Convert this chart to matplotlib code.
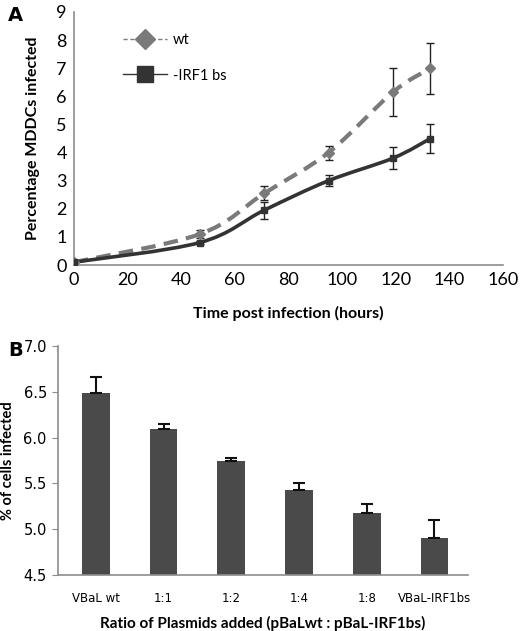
import numpy as np
import matplotlib
matplotlib.use("Agg")
import matplotlib.pyplot as plt
from matplotlib.path import Path
from matplotlib.patches import PathPatch
from matplotlib.lines import Line2D

# Panel A: time course
hours = [0, 47, 71, 95, 119, 133]
wt = [0.1, 1.1, 2.55, 4.0, 6.15, 7.0]
wt_err = [0.0, 0.15, 0.25, 0.25, 0.85, 0.9]
irf = [0.1, 0.8, 1.95, 3.0, 3.8, 4.5]
irf_err = [0.0, 0.06, 0.3, 0.2, 0.4, 0.5]

# Panel B: plasmid ratios
ratios = ["VBaL wt", "1:1", "1:2", "1:4", "1:8", "VBaL-IRF1bs"]
pct = [6.49, 6.09, 5.74, 5.43, 5.18, 4.90]
pct_err = [0.17, 0.06, 0.04, 0.07, 0.10, 0.20]

AXC = "#8c8c8c"


def smooth_path(xs, ys):
    # Excel-like smoothed line: Catmull-Rom segments as cubic Beziers
    p = np.column_stack([xs, ys]).astype(float)
    n = len(p)
    verts = [p[0]]
    codes = [Path.MOVETO]
    for i in range(n - 1):
        p0 = p[i - 1] if i > 0 else p[i]
        p3 = p[i + 2] if i + 2 < n else p[i + 1]
        c1 = p[i] + (p[i + 1] - p0) / 6
        c2 = p[i + 1] - (p3 - p[i]) / 6
        verts += [c1, c2, p[i + 1]]
        codes += [Path.CURVE4] * 3
    return Path(verts, codes)


fig = plt.figure(figsize=(5.2, 6.31), dpi=100)

# ---------- A ----------
ax = fig.add_axes([0.142, 0.580, 0.825, 0.401])
ax.add_patch(PathPatch(smooth_path(hours, wt), fill=False, edgecolor="#7a7a7a",
                       lw=3, linestyle=(0, (3.5, 2)), capstyle="butt", zorder=2))
ax.add_patch(PathPatch(smooth_path(hours, irf), fill=False, edgecolor="#333333",
                       lw=2.6, zorder=3))
ax.errorbar(hours, wt, yerr=wt_err, fmt="D", color="#7a7a7a", ms=5,
            ecolor="#222222", elinewidth=1, capsize=3, capthick=1, zorder=4)
ax.errorbar(hours, irf, yerr=irf_err, fmt="s", color="#333333", ms=5,
            ecolor="#222222", elinewidth=1, capsize=3, capthick=1, zorder=4)
ax.set_xlim(0, 160)
ax.set_ylim(0, 9)
ax.set_xticks(range(0, 161, 20))
ax.set_yticks(range(0, 10))
for s in ["top", "right"]:
    ax.spines[s].set_visible(False)
for s in ["left", "bottom"]:
    ax.spines[s].set_color(AXC)
    ax.spines[s].set_linewidth(1.2)
ax.tick_params(length=0, labelsize=13, pad=5)
for t in ax.get_xticklabels() + ax.get_yticklabels():
    t.set_family("Lato")
ax.set_xlabel("Time post infection (hours)", fontsize=11.5, fontweight="bold",
              family="Lato", labelpad=13)
ax.set_ylabel("Percentage MDDCs infected", fontsize=11.5, fontweight="bold",
              family="Lato", labelpad=12)
handles = [
    Line2D([], [], color="#7a7a7a", lw=1, ls=(0, (3, 2)), marker="D", ms=10,
           markerfacecolor="#7a7a7a", markeredgecolor="#7a7a7a"),
    Line2D([], [], color="#333333", lw=1, marker="s", ms=12,
           markerfacecolor="#333333", markeredgecolor="#333333"),
]
leg = ax.legend(handles, ["wt", "-IRF1 bs"], loc="upper left",
                bbox_to_anchor=(0.085, 0.97), frameon=False, handlelength=3.0,
                labelspacing=1.5, handletextpad=0.4,
                prop={"family": "Lato", "size": 10.5})
fig.text(0.015, 0.99, "A", fontsize=14, fontweight="bold", va="top",
         family="DejaVu Sans")

# ---------- B ----------
bx = fig.add_axes([0.1115, 0.0887, 0.789, 0.363])
xpos = np.arange(len(ratios))
bx.bar(xpos, pct, width=0.41, color="#4a4a4a", zorder=2)
bx.errorbar(xpos, pct, yerr=[np.zeros(len(pct)), pct_err], fmt="none",
            ecolor="#111111", elinewidth=1.5, capsize=4, capthick=1.5, zorder=3)
bx.set_xlim(-0.56, 5.5)
bx.set_ylim(4.5, 7.0)
bx.set_yticks(np.arange(4.5, 7.01, 0.5))
bx.set_yticklabels([f"{v:.1f}" for v in np.arange(4.5, 7.01, 0.5)])
bx.set_xticks(xpos)
bx.set_xticklabels(ratios)
for s in ["top", "right"]:
    bx.spines[s].set_visible(False)
for s in ["left", "bottom"]:
    bx.spines[s].set_color(AXC)
    bx.spines[s].set_linewidth(1.2)
bx.tick_params(axis="y", length=4, color=AXC, labelsize=10.5, pad=4)
bx.tick_params(axis="x", length=0, labelsize=8.5, pad=12)
bx.set_xlabel("Ratio of Plasmids added (pBaLwt : pBaL-IRF1bs)", fontsize=11,
              fontweight="bold", family="Lato", labelpad=8)
bx.set_ylabel("% of cells infected", fontsize=10.5, fontweight="bold",
              family="Lato", labelpad=6)
fig.text(0.015, 0.46, "B", fontsize=14, fontweight="bold", va="top",
         family="DejaVu Sans")

fig.savefig("out.png", dpi=100)
